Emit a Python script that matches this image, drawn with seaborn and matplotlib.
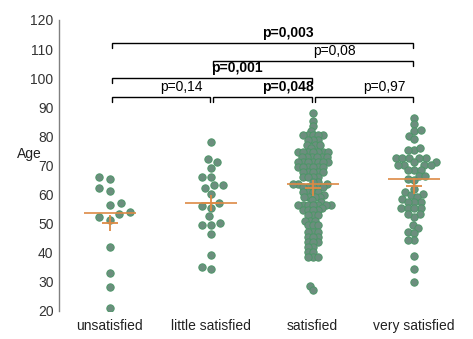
import warnings
warnings.filterwarnings("ignore")
import numpy as np
import pandas as pd
import matplotlib
matplotlib.use("Agg")
import matplotlib.pyplot as plt
import seaborn as sns
from matplotlib.collections import PathCollection

categories = ["unsatisfied", "little satisfied", "satisfied", "very satisfied"]

unsatisfied = [66.2, 65.3, 62.3, 61.3, 57.1, 56.3, 54.1, 53.3, 52.4, 51.2,
               42.0, 33.0, 28.4, 21.1]

little_satisfied = [78.2, 71.3, 72.1, 69.2, 66.2, 66.2, 63.2, 62.4, 63.2, 60.2,
                    57.2, 55.5, 56.2, 52.5, 49.6, 50.2, 49.6, 46.5, 39.1, 35.2,
                    34.4]

satisfied = ([88.1, 85.3, 83.6, 82.0] + [80.5] * 5 + [78.8] * 3 + [77.0] * 3 +
             [76.0] + [74.5] * 7 + [72.9] * 6 + [71.3] * 7 + [69.6] * 6 +
             [67.9] * 5 + [66.2] * 4 + [64.4] * 2 + [63.5] * 3 + [62.7] * 5 +
             [61.0] * 4 + [60.0] + [59.3] * 4 + [58.0, 57.5] + [56.4] * 7 +
             [55.5] + [54.7] * 4 + [53.0] * 3 + [51.0] * 3 + [49.6] * 3 +
             [47.2] * 3 + [45.5] * 3 + [43.8] * 3 + [42.1] * 2 + [40.4] * 2 +
             [38.5] * 3 + [28.6, 27.2])

very_satisfied = ([86.4, 84.2, 82.0, 82.2, 80.1, 79.0, 75.3, 75.3, 76.1] +
                  [72.5] * 5 + [71.3] * 2 + [70.2] * 4 + [68.5] * 3 +
                  [66.5, 66.5, 65.5, 65.0, 61.0, 60.2, 61.9, 59.9, 59.3, 58.5] +
                  [57.4] * 3 + [55.3] * 4 + [53.2, 52.4, 53.2] +
                  [49.6, 48.4, 47.2, 46.7, 44.4, 44.4, 39.0, 34.3, 30.1])

# comparisons: (group a, group b, label, bold)
comparisons = [
    (0, 1, "p=0,14", False),
    (1, 2, "p=0,048", True),
    (2, 3, "p=0,97", False),
    (0, 2, "p=0,001", True),
    (1, 3, "p=0,08", False),
    (0, 3, "p=0,003", True),
]
bracket_levels = [93.5, 93.5, 93.5, 100.1, 105.9, 112.1]

values = [unsatisfied, little_satisfied, satisfied, very_satisfied]
df = pd.DataFrame({
    "group": np.repeat(categories, [len(v) for v in values]),
    "Age": np.concatenate(values),
})

sns.set_style("white")
plt.rcParams["font.family"] = ["Liberation Sans", "DejaVu Sans"]

fill = "#6c8e7e"
edge = "#4d9668"
orange = "#dd8a45"

# spacing used for the swarm layout of each group (dot size is fixed below)
layout_sizes = [7.0, 5.6, 2.7, 3.7]
dot_size = 5.3

fig = plt.figure(figsize=(4.73, 3.39), dpi=100)
ax = fig.add_axes([59 / 473, 28 / 339, 414 / 473, 291 / 339])

for cat, lsize in zip(categories, layout_sizes):
    sns.swarmplot(data=df[df["group"] == cat], x="group", y="Age",
                  order=categories, ax=ax, size=lsize, color=fill,
                  edgecolor=edge, linewidth=0.7)

sns.boxplot(data=df, x="group", y="Age", order=categories, ax=ax,
            width=0.51, showbox=False, showcaps=False, showfliers=False,
            whiskerprops={"visible": False},
            medianprops={"color": orange, "linewidth": 1.2, "zorder": 5},
            showmeans=True,
            meanprops={"marker": "+", "markeredgecolor": orange,
                       "markersize": 11, "markeredgewidth": 1.3, "zorder": 5})

ax.set_xlim(-0.5, 3.58)
ax.set_ylim(20, 120)
ax.set_yticks(range(20, 121, 10))

fig.canvas.draw()
swarms = [c for c in ax.collections if isinstance(c, PathCollection)]
for c in swarms:
    c.__dict__.pop("draw", None)
    c.set_sizes([dot_size ** 2])

# highlighted point (blue edge) in the satisfied group
if len(swarms) >= 3:
    c = swarms[2]
    off = c.get_offsets()
    n = len(off)
    ecols = np.array([matplotlib.colors.to_rgba(edge)] * n)
    cand = np.where(np.isclose(off[:, 1], 71.3))[0]
    if len(cand):
        k = cand[np.argmin(np.abs(off[cand, 0] - 2.06))]
        ecols[k] = matplotlib.colors.to_rgba("#2a3fbf")
    c.set_edgecolors(ecols)

# brackets
tick = 1.7
for (a, b, label, bold), lvl in zip(comparisons, bracket_levels):
    x0 = a + 0.02
    x1 = b - 0.01
    ax.plot([x0, x0, x1, x1], [lvl - tick, lvl, lvl, lvl - tick],
            color="black", lw=1.0, clip_on=False, solid_joinstyle="miter")
    ax.text((a + b) / 2, lvl + 0.9, label, ha="left", va="bottom",
            fontsize=10, fontweight="bold" if bold else "normal", color="black")

for s in ["top", "right", "bottom"]:
    ax.spines[s].set_visible(False)
ax.spines["left"].set_color("#808080")
ax.spines["left"].set_linewidth(1.0)
ax.tick_params(axis="y", direction="inout", length=6, width=1, color="#808080",
               labelsize=10, labelcolor="#333333", pad=1)
ax.tick_params(axis="x", length=0, labelsize=10, labelcolor="#222222", pad=6)
ax.set_xlabel("")
ax.set_ylabel("Age", rotation=0, ha="right", va="center", fontsize=10,
              color="#222222")
ax.yaxis.set_label_coords(-0.041, 0.54)

fig.savefig("out.png", dpi=100)
